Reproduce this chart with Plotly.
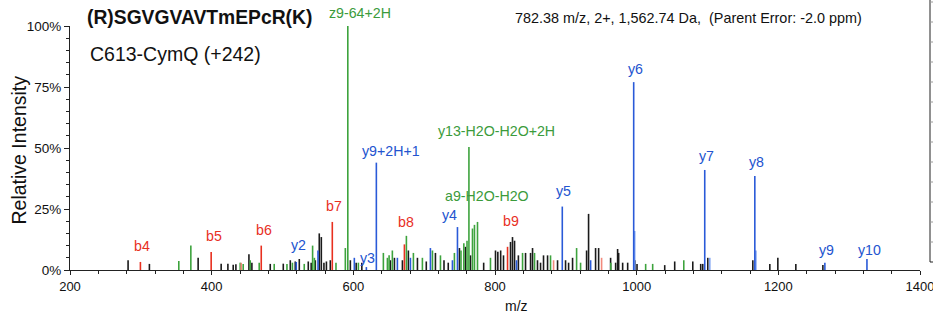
import plotly.graph_objects as go

# ---------------- data ----------------
black_mz = [282.0, 312.1, 380.9, 413.4, 422.9, 430.4, 434.2, 452.6, 456.8, 482.7,
            501.1, 511.0, 518.0, 523.7, 536.4, 540.5, 546.3, 551.9, 554.8, 558.5,
            562.0, 567.5, 595.8, 604.0, 612.0, 652.3, 658.0, 669.3, 677.7, 690.5,
            703.0, 715.9, 728.0, 734.0, 749.8, 758.3, 765.4, 784.0, 800.7, 804.0,
            808.0, 812.0, 821.9, 824.7, 827.6, 833.0, 843.1, 850.2, 853.0, 860.0,
            864.3, 868.5, 874.2, 888.3, 899.6, 903.9, 909.5, 929.3, 932.1, 942.0,
            946.3, 963.2, 970.3, 973.1, 974.6, 980.2, 987.3, 997.5, 1000.5, 1039.6,
            1053.7, 1079.2, 1090.4, 1093.3, 1100.4, 1164.0, 1188.0, 1199.3, 1224.7, 1262.9]
black_int = [4, 2.5, 5, 2.6, 2.6, 2.2, 2.4, 6.5, 3, 2.5,
             2.6, 4, 3.5, 4.5, 3.5, 3, 4, 15, 13.5, 3,
             3.5, 4, 4, 3, 3, 4, 5, 4, 8, 5,
             3.5, 7, 4, 3, 9, 9.5, 6, 3, 8, 7.5,
             8, 6, 11.5, 13.5, 12, 6, 7, 7, 9, 4,
             3, 6, 6, 4, 4, 3, 5, 8, 23, 9,
             9, 5, 3, 8.6, 7, 3, 3, 4, 2.5, 2,
             3.5, 3.5, 2.5, 2.5, 5, 4, 2.5, 5, 2.5, 2]

green_mz = [353.6, 370.6, 440.3, 444.5, 454.4, 467.1, 488.3, 506.3, 514.0, 530.7,
            542.5, 545.0, 575.5, 588.7, 592.2, 607.1, 642.4, 648.1, 650.5, 655.1,
            674.9, 684.8, 697.5, 711.7, 723.0, 742.7, 752.0, 756.0, 760.5, 763.2,
            768.2, 771.0, 775.3, 793.6, 838.9, 855.8, 878.4, 915.2, 920.8, 963.5,
            1012.7, 1022.6, 1066.5]
green_int = [3.7, 10, 3, 2.5, 4, 3, 2.5, 2.5, 3, 2.5,
             10, 5, 3, 9, 100, 3, 7, 5, 6, 8,
             14, 7, 5, 8, 6, 7, 8, 11, 12, 50.4,
             17, 18.5, 19.7, 5, 7, 7, 6, 9, 3, 3,
             2.5, 2.5, 4]

red_mz = [299.4, 399.3, 470.0, 570.3, 672.1, 817.7]
red_int = [3.3, 7.4, 10, 19.7, 10.5, 9.5]
light_red_mz = [441.7, 882.7, 950.5]
light_red_int = [3, 4, 5]

blue_mz = [519.4, 550.1, 601.4, 618.4, 632.5, 662.2, 680.6, 708.8, 739.9, 747.0,
           830.4, 895.0, 935.0, 995.8, 1096.1, 1166.8, 1265.7, 1325.1]
blue_int = [3.3, 8, 5, 1.2, 44, 5, 5, 9, 4, 17.6,
            4, 26, 4, 77, 41, 38.5, 3, 4.5]
light_blue_mz = [997.2, 1103.2, 1168.3]
light_blue_int = [16, 5, 8]

ion_labels = ["b4", "b5", "b6", "y2", "b7", "z9-64+2H", "y3", "y9+2H+1", "b8", "y4",
              "y13-H2O-H2O+2H", "a9-H2O-H2O", "b9", "y5", "y6", "y7", "y8", "y9", "y10"]
ion_label_mz = [299.4, 399.3, 470.0, 519.4, 570.3, 592.2, 618.4, 632.5, 672.1, 747.0,
                763.2, 775.3, 817.7, 895.0, 995.8, 1096.1, 1166.8, 1265.7, 1325.1]

x_ticks = [200, 400, 600, 800, 1000, 1200, 1400]
y_ticks = [0, 25, 50, 75, 100]

title_seq = "(R)SGVGVAVTmEPcR(K)"
subtitle = "C613-CymQ (+242)"
info_text = "782.38 m/z, 2+, 1,562.74 Da,  (Parent Error: -2.0 ppm)"

# ---------------- styles ----------------
SANS = "Liberation Sans, Arial, sans-serif"
COL = {"black": "#1a1a1a", "green": "#3da33d", "red": "#e8301f", "blue": "#2a5ad8",
       "lred": "#f28a7c", "lblue": "#7ea3f2"}
LABEL_COL = {"green": "#3b9b3b", "red": "#e8301f", "blue": "#2354cf"}
# (xshift, yshift) in px for each label
LABEL_OFFSETS = {
    "b4": (2, 6), "b5": (3, 6), "b6": (3, 6), "y2": (2, 7), "b7": (2, 6),
    "z9-64+2H": (12, 3), "y3": (1, -1), "y9+2H+1": (15, 2), "b8": (2, 12), "y4": (-8, 2),
    "y13-H2O-H2O+2H": (28, 6), "a9-H2O-H2O": (9, 16), "b9": (3, 16), "y5": (1, 6),
    "y6": (2, 3), "y7": (2, 4), "y8": (2, 4), "y9": (2, 3), "y10": (3, -1),
}

series = [
    ("black", black_mz, black_int),
    ("green", green_mz, green_int),
    ("lred", light_red_mz, light_red_int),
    ("red", red_mz, red_int),
    ("lblue", light_blue_mz, light_blue_int),
    ("blue", blue_mz, blue_int),
]


def stems(mz, inten):
    xs, ys = [], []
    for m, v in zip(mz, inten):
        xs += [m, m, None]
        ys += [0, v, None]
    return xs, ys


fig = go.Figure()
for key, mz, inten in series:
    xs, ys = stems(mz, inten)
    fig.add_trace(go.Scatter(x=xs, y=ys, mode="lines",
                             line=dict(color=COL[key], width=1.6),
                             hoverinfo="skip", showlegend=False))

# labels: look up intensity and colour from the series
lookup = {}
for key, mz, inten in [("green", green_mz, green_int), ("red", red_mz, red_int),
                       ("blue", blue_mz, blue_int)]:
    for m, v in zip(mz, inten):
        lookup[m] = (key, v)

for name, m in zip(ion_labels, ion_label_mz):
    key, v = lookup[m]
    dx, dy = LABEL_OFFSETS[name]
    fig.add_annotation(x=m, y=v, xref="x", yref="y", text=name, showarrow=False,
                       xanchor="center", yanchor="bottom", xshift=dx, yshift=dy,
                       font=dict(family=SANS, size=14.2, color=LABEL_COL[key]))

# plot area spans x px 70..920 of a 933 px wide figure; paper x=1 at 930 px
XD = 850 / 860.0


def px_x(p):
    return (p - 70) / 860.0


def px_y(p):
    return (270 - p) / 244.0


# header texts
fig.add_annotation(x=px_x(85), y=px_y(17.5), xref="paper", yref="paper",
                   text="<b>%s</b>" % title_seq, showarrow=False, xanchor="left", yanchor="middle",
                   font=dict(family=SANS, size=19.3, color="#111111"))
fig.add_annotation(x=px_x(88), y=px_y(54), xref="paper", yref="paper", text=subtitle,
                   showarrow=False, xanchor="left", yanchor="middle",
                   font=dict(family=SANS, size=19.5, color="#111111"))
fig.add_annotation(x=px_x(513), y=px_y(18), xref="paper", yref="paper", text=info_text,
                   showarrow=False, xanchor="left", yanchor="middle",
                   font=dict(family=SANS, size=14.4, color="#111111"))
fig.add_annotation(x=px_x(18.5), y=px_y(150), xref="paper", yref="paper", text="Relative Intensity",
                   showarrow=False, textangle=-90, xanchor="center", yanchor="middle",
                   font=dict(family=SANS, size=19.5, color="#111111"))
fig.add_annotation(x=px_x(516.5), y=px_y(306), xref="paper", yref="paper", text="m/z",
                   showarrow=False, xanchor="center", yanchor="middle",
                   font=dict(family=SANS, size=14, color="#111111"))

# neighbouring panel edge at the right
fig.add_shape(type="line", xref="paper", yref="paper", x0=1.0, x1=1.0,
              y0=px_y(262), y1=px_y(-2), line=dict(color="#222222", width=1))
fig.add_shape(type="line", xref="paper", yref="paper", x0=1.0, x1=px_x(936),
              y0=px_y(262), y1=px_y(262), line=dict(color="#222222", width=1))
for k in range(13):
    yp = px_y(2 + 20 * k)
    fig.add_shape(type="line", xref="paper", yref="paper", x0=1.0, x1=px_x(933),
                  y0=yp, y1=yp, line=dict(color="#999999", width=1))

fig.update_layout(
    width=933, height=322, autosize=False,
    margin=dict(l=70, r=3, t=26, b=52),
    paper_bgcolor="white", plot_bgcolor="white",
    xaxis=dict(domain=[0, XD], range=[200, 1400], tickvals=x_ticks,
               ticktext=[str(t) for t in x_ticks], automargin=False,
               showgrid=False, zeroline=False, showline=True, linecolor="#222222", linewidth=1,
               ticks="outside", ticklen=4, tickcolor="#222222", ticklabeloverflow="allow",
               minor=dict(dtick=40, tick0=200, ticks="outside", ticklen=3, tickcolor="#222222"),
               tickfont=dict(family=SANS, size=13, color="#111111")),
    yaxis=dict(range=[0, 100], tickvals=y_ticks, ticktext=["%d%%" % t for t in y_ticks],
               automargin=False,
               showgrid=False, zeroline=False, showline=True, linecolor="#222222", linewidth=1,
               ticks="outside", ticklen=5, tickcolor="#222222",
               minor=dict(dtick=5, tick0=0, ticks="outside", ticklen=3, tickcolor="#222222"),
               tickfont=dict(family=SANS, size=13.5, color="#111111")),
)

fig.write_html(
    "out.html",
    config={"displayModeBar": False, "responsive": False},
    post_script=("document.documentElement.style.overflow='hidden';"
                 "document.body.style.overflow='hidden';"
                 "document.body.style.margin='0';"),
)
